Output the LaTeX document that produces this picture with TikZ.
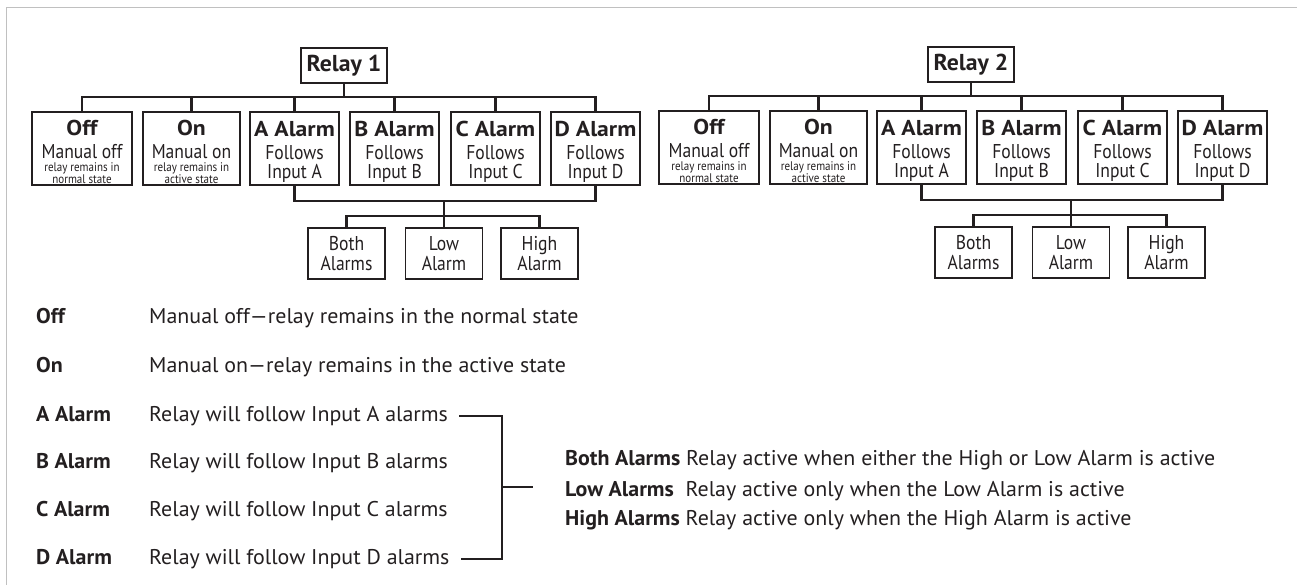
\documentclass[tikz,border=0pt]{standalone}
\usepackage{fontspec}
\setmainfont{PT Sans}[FakeStretch=1.03]
\newfontfamily\narrowfont{PT Sans}[FakeStretch=0.88]
\newfontfamily\widefont{PT Sans}[FakeStretch=1.1]
\usetikzlibrary{positioning}

\definecolor{ink}{RGB}{35,31,32}
\definecolor{framegray}{RGB}{192,192,192}

\newcommand{\modetitle}[1]{{\widefont\bfseries\fontsize{21.5}{22}\selectfont #1}}
\newcommand{\modenote}[2]{{\fontsize{12.5}{10}\selectfont\begin{tabular}[t]{@{}c@{}}#1\\#2\end{tabular}}}

\tikzset{
  relaybox/.style={draw=ink, line width=1.6pt, minimum width=86pt, minimum height=35pt,
    inner sep=0pt, font=\bfseries\fontsize{23}{25}\selectfont},
  modebox/.style={draw=ink, line width=1.6pt, minimum width=89pt, inner sep=0pt,
    text height=67pt, text depth=6pt, anchor=base, align=center,
    font=\narrowfont\fontsize{20}{19}\selectfont},
  manualbox/.style={modebox, text height=60pt, text depth=13pt},
  levelbox/.style={draw=ink, line width=1.6pt, minimum width=77pt, minimum height=51pt,
    inner sep=0pt, align=center, font=\narrowfont\fontsize{20}{20}\selectfont},
  bus/.style={draw=ink, line width=2.6pt},
  brk/.style={draw=ink, line width=2pt},
  keyname/.style={anchor=base west, inner sep=0pt, font=\bfseries\fontsize{21.3}{24}\selectfont},
  keytext/.style={anchor=base west, inner sep=0pt, font=\fontsize{21.3}{24}\selectfont},
  note/.style={anchor=base west, inner sep=0pt, font=\fontsize{21.3}{24}\selectfont}
}

\begin{document}
\begin{tikzpicture}[x=1pt,y=-1pt,text=ink]
  \useasboundingbox (0,0) rectangle (1297,585);
  \draw[framegray, line width=1.5pt] (6.5,585) -- (6.5,7.5) -- (1297,7.5);

  % the two relay trees
  \foreach \r/\dx/\dy in {1/0/0,2/627/-1}{
  \begin{scope}[shift={(\dx,\dy)}]
    \node[relaybox] (rel\r) at (344,65.5) {Relay \r};
    \coordinate (hub\r) at (344,97);

    \node[manualbox, minimum width=100pt] (off\r) at (82,172)
      {\modetitle{Off}\\[4pt] Manual off\\[-6pt] \modenote{relay remains in}{normal state}};
    \node[manualbox, minimum width=97pt] (on\r) at (191.5,172)
      {\modetitle{On}\\[4pt] Manual on\\[-6pt] \modenote{relay remains in}{active state}};
    \node[modebox] (aal\r) at (294.5,179) {\modetitle{A Alarm}\\[4pt] Follows\\ Input A};
    \node[modebox] (bal\r) at (394.5,179) {\modetitle{B Alarm}\\[4pt] Follows\\ Input B};
    \node[modebox] (cal\r) at (495.5,179) {\modetitle{C Alarm}\\[4pt] Follows\\ Input C};
    \node[modebox] (dal\r) at (595.5,179) {\modetitle{D Alarm}\\[4pt] Follows\\ Input D};

    \coordinate (mid\r) at (444,201);
    \coordinate (sub\r) at (444,216);
    \node[levelbox] (both\r) at (346.5,253.5) {Both\\ Alarms};
    \node[levelbox] (low\r) at (444,253.5) {Low\\ Alarm};
    \node[levelbox] (high\r) at (539.5,253.5) {High\\ Alarm};

    % connectors
    \draw[bus] (rel\r.south) -- (hub\r);
    \draw[bus] (off\r.north) -- (off\r.north |- hub\r) -- (dal\r.north |- hub\r) -- (dal\r.north);
    \foreach \m in {on,aal,bal,cal}
      \draw[bus] (\m\r.north) -- (\m\r.north |- hub\r);
    \draw[bus] (aal\r.south) -- (aal\r.south |- mid\r) -- (dal\r.south |- mid\r) -- (dal\r.south);
    \draw[bus] (mid\r) -- (sub\r);
    \draw[bus] (both\r.north) -- (both\r.north |- sub\r) -- (high\r.north |- sub\r) -- (high\r.north);
    \draw[bus] (low\r.north) -- (sub\r);
  \end{scope}
  }

  % legend
  \node[keyname] (koff) at (36,323) {Off};
  \node[keyname] (kon) at (36,372) {On};
  \node[keyname] (ka) at (36,421) {A Alarm};
  \node[keyname] (kb) at (36,468) {B Alarm};
  \node[keyname] (kc) at (36,516) {C Alarm};
  \node[keyname] (kd) at (36,564) {D Alarm};
  \node[keytext] (toff) at (149,323) {Manual off—relay remains in the normal state};
  \node[keytext] (ton) at (149,372) {Manual on—relay remains in the active state};
  \node[keytext] (ta) at (149,421) {Relay will follow Input A alarms};
  \node[keytext] (tb) at (149,468) {Relay will follow Input B alarms};
  \node[keytext] (tc) at (149,516) {Relay will follow Input C alarms};
  \node[keytext] (td) at (149,564) {Relay will follow Input D alarms};

  \node[note] (nboth) at (565,465) {\textbf{Both Alarms} Relay active when either the High or Low Alarm is active};
  \node[note] (nlow) at (565,496) {\textbf{Low Alarms}\ \ Relay active only when the Low Alarm is active};
  \node[note] (nhigh) at (565,525) {\textbf{High Alarms} Relay active only when the High Alarm is active};

  \coordinate (fork) at (502,487);
  \draw[brk] ([xshift=11pt]ta.east) -| (fork) |- ([xshift=11pt]td.east);
  \draw[brk, shorten >=32pt] (fork) -- (nlow.west |- fork);
\end{tikzpicture}
\end{document}
